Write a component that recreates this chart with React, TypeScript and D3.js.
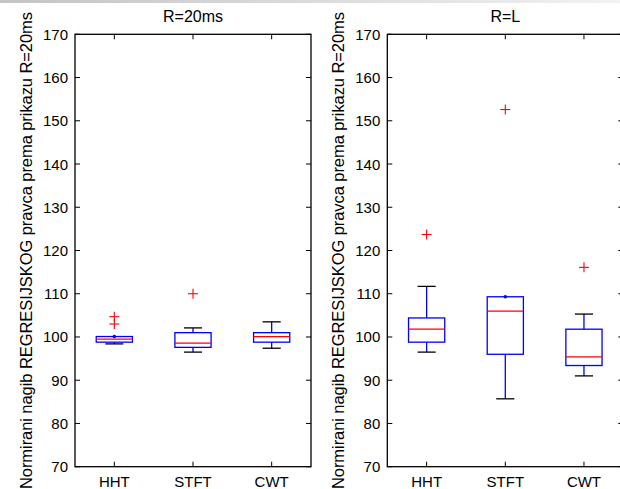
import React from "react";
import * as d3 from "d3";

const categories = ["HHT", "STFT", "CWT"];
const panelTitles = ["R=20ms", "R=L"];
const yLabel = "Normirani nagib REGRESIJSKOG pravca prema prikazu R=20ms";
const yTicks = [70, 80, 90, 100, 110, 120, 130, 140, 150, 160, 170];

// Panel R=20ms
const lowerWhisker20 = [98.4, 96.5, 97.4];
const q1_20 = [98.8, 97.6, 98.8];
const median20 = [99.5, 98.6, 100.1];
const q3_20 = [100.1, 101.0, 101.0];
const upperWhisker20 = [100.1, 102.1, 103.5];
const outliers20 = [[104.7, 103.0], [110.0], []];

// Panel R=L
const lowerWhiskerL = [96.5, 85.7, 91.0];
const q1L = [98.8, 96.0, 93.4];
const medianL = [101.8, 106.0, 95.4];
const q3L = [104.4, 109.3, 101.8];
const upperWhiskerL = [111.7, 109.3, 105.3];
const outliersL = [[123.7], [152.6], [116.1]];

const panels = [
  { title: panelTitles[0], lo: lowerWhisker20, q1: q1_20, med: median20, q3: q3_20, hi: upperWhisker20, out: outliers20 },
  { title: panelTitles[1], lo: lowerWhiskerL, q1: q1L, med: medianL, q3: q3L, hi: upperWhiskerL, out: outliersL },
];

const W = 620;
const H = 489;
const TOP = 34.3;
const BOTTOM = 466.7;
const PANEL_W = 236;
const PANEL_X = [75, 387.3];
const FONT = "'Liberation Sans', Arial, Helvetica, sans-serif";

function Panel({ p, x0 }: { p: typeof panels[0]; x0: number }) {
  const x = d3.scaleLinear().domain([0.5, 3.5]).range([x0, x0 + PANEL_W]);
  const y = d3.scaleLinear().domain([70, 170]).range([BOTTOM, TOP]);
  const bw = x(1.46) - x(1);
  const cw = x(1.23) - x(1);
  const tl = 5;
  const x1 = x0 + PANEL_W;
  return (
    <g>
      <rect x={x0} y={TOP} width={PANEL_W} height={BOTTOM - TOP} fill="none" stroke="#000" strokeWidth={1.3} />
      {yTicks.map((t) => (
        <g key={t}>
          <line x1={x0} x2={x0 + tl} y1={y(t)} y2={y(t)} stroke="#000" />
          <line x1={x1} x2={x1 - tl} y1={y(t)} y2={y(t)} stroke="#000" />
          <text x={x0 - 7} y={y(t)} textAnchor="end" dominantBaseline="central" fontSize={15} fontFamily={FONT} fill="#000">
            {t}
          </text>
        </g>
      ))}
      {categories.map((c, i) => (
        <g key={c}>
          <line x1={x(i + 1)} x2={x(i + 1)} y1={BOTTOM} y2={BOTTOM - tl} stroke="#000" />
          <line x1={x(i + 1)} x2={x(i + 1)} y1={TOP} y2={TOP + tl} stroke="#000" />
          <text x={x(i + 1)} y={487} textAnchor="middle" fontSize={15} fontFamily={FONT} fill="#000">
            {c}
          </text>
        </g>
      ))}
      <text x={x(2)} y={22} textAnchor="middle" fontSize={16} fontFamily={FONT} fill="#000">
        {p.title}
      </text>
      {categories.map((c, i) => {
        const cx = x(i + 1);
        return (
          <g key={"b" + c}>
            <line x1={cx} x2={cx} y1={y(p.q3[i])} y2={y(p.hi[i])} stroke="#0000ff" strokeWidth={1.3} />
            <line x1={cx} x2={cx} y1={y(p.q1[i])} y2={y(p.lo[i])} stroke="#0000ff" strokeWidth={1.3} />
            {p.hi[i] > p.q3[i] ? (
              <line x1={cx - cw / 2} x2={cx + cw / 2} y1={y(p.hi[i])} y2={y(p.hi[i])} stroke="#000" strokeWidth={1.3} />
            ) : (
              <circle cx={cx} cy={y(p.hi[i])} r={1.8} fill="#0000ff" />
            )}
            <line x1={cx - cw / 2} x2={cx + cw / 2} y1={y(p.lo[i])} y2={y(p.lo[i])} stroke="#000" strokeWidth={1.3} />
            <rect
              x={cx - bw / 2}
              y={y(p.q3[i])}
              width={bw}
              height={y(p.q1[i]) - y(p.q3[i])}
              fill="none"
              stroke="#0000ff"
              strokeWidth={1.3}
            />
            <line x1={cx - bw / 2} x2={cx + bw / 2} y1={y(p.med[i])} y2={y(p.med[i])} stroke="#ff0000" strokeWidth={1.2} />
            {p.out[i].map((v, k) => (
              <g key={k}>
                <line x1={cx - 5} x2={cx + 5} y1={y(v)} y2={y(v)} stroke="#ff0000" strokeWidth={1.1} />
                <line x1={cx} x2={cx} y1={y(v) - 5} y2={y(v) + 5} stroke="#ff0000" strokeWidth={1.1} />
              </g>
            ))}
          </g>
        );
      })}
      <text
        transform={`translate(${x0 - 43},${(TOP + BOTTOM) / 2}) rotate(-90)`}
        textAnchor="middle"
        fontSize={16.5}
        fontFamily={FONT}
        fill="#000"
        textLength={477}
        lengthAdjust="spacing"
      >
        {yLabel}
      </text>
    </g>
  );
}

export default function App() {
  return (
    <svg width={W} height={H} style={{ position: "absolute", left: 0, top: 0, background: "#fff" }}>
      <defs>
        <linearGradient id="topband" x1="0" x2="1" y1="0" y2="0">
          <stop offset="0" stopColor="#c4c4c4" />
          <stop offset="1" stopColor="#f2f2f2" />
        </linearGradient>
      </defs>
      <rect x={0} y={0} width={W} height={H} fill="#fff" />
      <rect x={0} y={0} width={W} height={3} fill="url(#topband)" />
      {panels.map((p, i) => (
        <Panel key={i} p={p} x0={PANEL_X[i]} />
      ))}
    </svg>
  );
}
